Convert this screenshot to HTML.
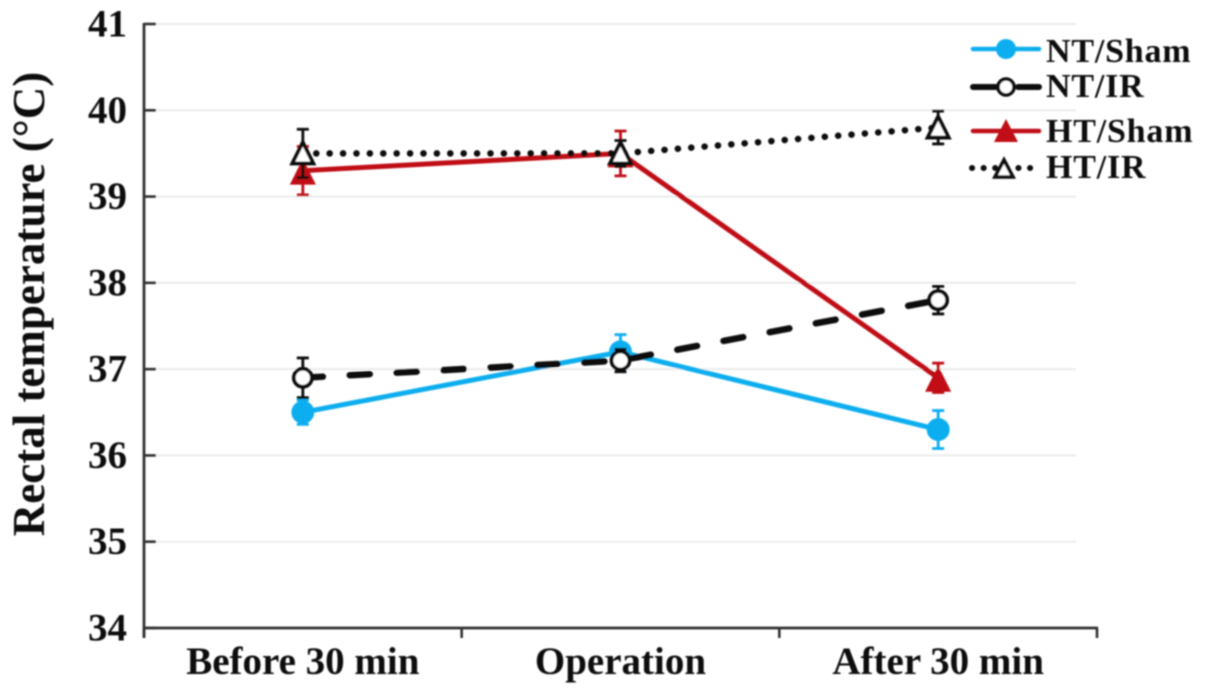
<!DOCTYPE html>
<html>
<head>
<meta charset="utf-8">
<title>Rectal temperature chart</title>
<style>
html,body{margin:0;padding:0;background:#fff;}
body{width:1205px;height:693px;overflow:hidden;}
svg{display:block;}
text{font-family:"Liberation Serif",serif;font-weight:bold;fill:#111;}
</style>
</head>
<body>
<svg id="chart" xmlns="http://www.w3.org/2000/svg" width="1205" height="693" viewBox="0 0 1205 693">
<defs>
<filter id="soft" x="-5%" y="-5%" width="110%" height="110%"><feGaussianBlur stdDeviation="0.85"/></filter>
</defs>
<g id="root" filter="url(#soft)"></g>
</svg>
<script>
const categories = ['Before 30 min', 'Operation', 'After 30 min'];
const yTicks = [34, 35, 36, 37, 38, 39, 40, 41];
const ntShamValues = [36.5, 37.2, 36.3];
const ntShamErrors = [0.14, 0.2, 0.22];
const ntIrValues = [36.9, 37.1, 37.8];
const ntIrErrors = [0.23, 0.13, 0.16];
const htShamValues = [39.3, 39.5, 36.9];
const htShamErrors = [0.28, 0.26, 0.17];
const htIrValues = [39.5, 39.5, 39.8];
const htIrErrors = [0.28, 0.15, 0.19];
const legendLabels = ['NT/Sham', 'NT/IR', 'HT/Sham', 'HT/IR'];
const yTitle = 'Rectal temperature (°C)';

const NS = 'http://www.w3.org/2000/svg';
const root = document.getElementById('root');
const plotLeft = 144, plotRight = 1097, plotTop = 24, plotBottom = 628;
const yMin = 34, yMax = 41;
function yScale(v) { return plotBottom - (v - yMin) / (yMax - yMin) * (plotBottom - plotTop); }
function xScale(i) { const w = (plotRight - plotLeft) / categories.length; return plotLeft + w * (i + 0.5); }
function make(tag, attrs, parent, text) {
  const el = document.createElementNS(NS, tag);
  for (const k in attrs) el.setAttribute(k, attrs[k]);
  if (text !== undefined) el.textContent = text;
  (parent || root).appendChild(el);
  return el;
}
function drawMarker(kind, cx, cy, color, parent) {
  if (kind === 'circle-fill') return make('circle', {cx: cx, cy: cy, r: 11.5, fill: color}, parent);
  if (kind === 'circle-open') return make('circle', {cx: cx, cy: cy, r: 9, fill: '#fff', stroke: color, 'stroke-width': 3.8}, parent);
  if (kind === 'tri-fill') return make('polygon', {points: cx + ',' + (cy - 12) + ' ' + (cx + 13) + ',' + (cy + 14) + ' ' + (cx - 13) + ',' + (cy + 14), fill: color}, parent);
  return make('polygon', {points: cx + ',' + (cy - 11) + ' ' + (cx + 10.5) + ',' + (cy + 10) + ' ' + (cx - 10.5) + ',' + (cy + 10), fill: '#fff', stroke: color, 'stroke-width': 3.8, 'stroke-linejoin': 'miter'}, parent);
}

yTicks.forEach(function (t) {
  if (t === yMin) return;
  const gl = make('line', {x1: plotLeft + 12, x2: 1076, y1: yScale(t), y2: yScale(t), stroke: '#ebebeb', 'stroke-width': 2});
  
  
});

const yAxis = make('line', {x1: plotLeft, x2: plotLeft, y1: plotTop - 1, y2: plotBottom + 10, stroke: '#333', 'stroke-width': 2.8});


const xAxis = make('line', {x1: plotLeft, x2: plotRight + 1, y1: plotBottom, y2: plotBottom, stroke: '#333', 'stroke-width': 2.8});



yTicks.forEach(function (t) {
  const tk = make('line', {x1: plotLeft, x2: plotLeft + 12, y1: yScale(t), y2: yScale(t), stroke: '#333', 'stroke-width': 2.6});
  
  
  const lb = make('text', {x: 127, y: yScale(t) + 12.5, 'text-anchor': 'end', 'font-size': 39}, root, String(t));
  
  
});

for (let i = 0; i <= categories.length; i++) {
  const x = plotLeft + (plotRight - plotLeft) / categories.length * i;
  const tk = make('line', {x1: x, x2: x, y1: plotBottom, y2: plotBottom + 10, stroke: '#333', 'stroke-width': 2.6});
  
  
}
categories.forEach(function (c, i) {
  const lb = make('text', {x: xScale(i), y: 674, 'text-anchor': 'middle', 'font-size': 39}, root, c);
  
  
});

const title = make('text', {transform: 'translate(44,304) rotate(-90)', 'text-anchor': 'middle', 'font-size': 45}, root, yTitle);



const seriesList = [
  {key: 'ht-sham', values: htShamValues, errors: htShamErrors, color: '#c00d12', marker: 'tri-fill', dash: null, width: 5, cap: 'butt'},
  {key: 'nt-sham', values: ntShamValues, errors: ntShamErrors, color: '#10aeef', marker: 'circle-fill', dash: null, width: 5, cap: 'butt'},
  {key: 'nt-ir', values: ntIrValues, errors: ntIrErrors, color: '#0c0c0c', marker: 'circle-open', dash: '20 27', width: 6.5, cap: 'round'},
  {key: 'ht-ir', values: htIrValues, errors: htIrErrors, color: '#0c0c0c', marker: 'tri-open', dash: '0.1 13.3', width: 6.5, cap: 'round'}
];

seriesList.forEach(function (s) {
  const g = make('g', {});
  
  
  s.values.forEach(function (v, i) {
    const x = xScale(i), hi = yScale(v + s.errors[i]), lo = yScale(v - s.errors[i]);
    const eb = make('path', {d: 'M' + (x - 6) + ' ' + hi + 'H' + (x + 6) + 'M' + x + ' ' + hi + 'V' + lo + 'M' + (x - 6) + ' ' + lo + 'H' + (x + 6), stroke: s.color, 'stroke-width': 2.8, fill: 'none'}, g);
    
    
  });
  const d = s.values.map(function (v, i) { return (i ? 'L' : 'M') + xScale(i) + ' ' + yScale(v); }).join(' ');
  const attrs = {d: d, fill: 'none', stroke: s.color, 'stroke-width': s.width, 'stroke-linecap': s.cap};
  if (s.dash) attrs['stroke-dasharray'] = s.dash;
  const ln = make('path', attrs, g);
  
  
  s.values.forEach(function (v, i) {
    const m = drawMarker(s.marker, xScale(i), yScale(v), s.color, g);
    
    
  });
});

const legendStyles = [
  {color: '#10aeef', marker: 'circle-fill', dash: null, width: 4.5, y: 49, ty: 62, my: 49, cx: 1006},
  {color: '#0c0c0c', marker: 'circle-open', dash: '23 22', width: 6, y: 87, ty: 97, my: 87, cx: 1006},
  {color: '#c00d12', marker: 'tri-fill', dash: null, width: 4.5, y: 131, ty: 142, my: 132, cx: 1006},
  {color: '#0c0c0c', marker: 'tri-open', dash: '0.1 11.5', width: 6, y: 168, ty: 178, my: 169, cx: 1004}
];
const legendGroup = make('g', {});


legendLabels.forEach(function (label, i) {
  const st = legendStyles[i];
  const g = make('g', {}, legendGroup);
  
  
  const a = {x1: 973, x2: 1039, y1: st.y, y2: st.y, stroke: st.color, 'stroke-width': st.width, 'stroke-linecap': 'round'};
  if (st.dash) a['stroke-dasharray'] = st.dash;
  if (i === 3) { a.x1 = 972; a.x2 = 1036; }
  make('line', a, g);
  const cx = st.cx;
  if (st.marker === 'circle-fill') make('circle', {cx: cx, cy: st.my, r: 10, fill: st.color}, g);
  else if (st.marker === 'circle-open') make('circle', {cx: cx, cy: st.my, r: 8, fill: '#fff', stroke: st.color, 'stroke-width': 3.6}, g);
  else if (st.marker === 'tri-fill') make('polygon', {points: cx + ',' + (st.my - 13) + ' ' + (cx + 12) + ',' + (st.my + 10) + ' ' + (cx - 12) + ',' + (st.my + 10), fill: st.color}, g);
  else make('polygon', {points: cx + ',' + (st.my - 9) + ' ' + (cx + 9) + ',' + (st.my + 8) + ' ' + (cx - 9) + ',' + (st.my + 8), fill: '#fff', stroke: st.color, 'stroke-width': 3.6}, g);
  const t = make('text', {x: 1046, y: st.ty, 'font-size': 34, 'letter-spacing': '0.8'}, g, label);
  
  
});
</script>
</body>
</html>
